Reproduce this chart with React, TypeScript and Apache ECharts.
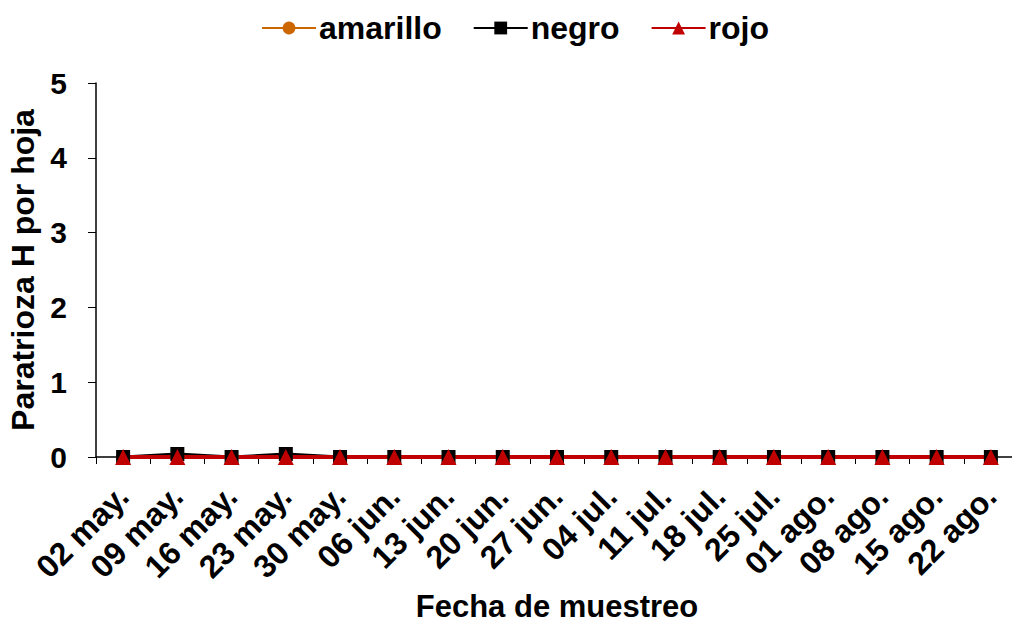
import React, { useEffect, useRef } from "react";
import * as echarts from "echarts";

const categories = [
  "02 may.", "09 may.", "16 may.", "23 may.", "30 may.", "06 jun.", "13 jun.", "20 jun.",
  "27 jun.", "04 jul.", "11 jul.", "18 jul.", "25 jul.", "01 ago.", "08 ago.", "15 ago.", "22 ago.",
];
const amarillo = [0, 0, 0, 0, 0, 0, 0, 0, 0, 0, 0, 0, 0, 0, 0, 0, 0];
const negro = [0, 0.04, 0, 0.04, 0, 0, 0, 0, 0, 0, 0, 0, 0, 0, 0, 0, 0];
const rojo = [0, 0, 0, 0, 0, 0, 0, 0, 0, 0, 0, 0, 0, 0, 0, 0, 0];

const FONT = "'Liberation Sans', Arial, sans-serif";

export default function App() {
  const ref = useRef<HTMLDivElement>(null);
  useEffect(() => {
    if (!ref.current) return;
    const chart = echarts.init(ref.current, null, { renderer: "svg" });
    chart.setOption({
      animation: false,
      backgroundColor: "#ffffff",
      textStyle: { fontFamily: FONT },
      legend: {
        top: 7,
        left: 256,
        itemWidth: 54,
        itemHeight: 16,
        itemGap: 31,
        textStyle: { fontSize: 32, fontWeight: "bold", color: "#000", fontFamily: FONT, padding: [0, 0, 0, -2] },
        data: ["amarillo", "negro", "rojo"],
      },
      grid: { left: 96, right: -6, top: 83, bottom: 167, containLabel: false, outerBoundsMode: "none" },
      xAxis: {
        type: "category",
        data: categories,
        boundaryGap: true,
        axisLine: { lineStyle: { color: "#000", width: 1.5 } },
        axisTick: { show: true, inside: false, length: 7, lineStyle: { color: "#000" } },
        axisLabel: {
          rotate: 45,
          interval: 0,
          fontSize: 32,
          fontWeight: "bold",
          color: "#000",
          fontFamily: FONT,
          margin: 34,
        },
        name: "Fecha de muestreo",
        nameLocation: "middle",
        nameGap: 133,
        nameTextStyle: { fontSize: 31, fontWeight: "bold", color: "#000", fontFamily: FONT },
        splitLine: { show: false },
      },
      yAxis: {
        type: "value",
        min: 0,
        max: 5,
        interval: 1,
        axisLine: { show: true, lineStyle: { color: "#000", width: 1.5 } },
        axisTick: { show: true, inside: false, length: 8, lineStyle: { color: "#000" } },
        axisLabel: { fontSize: 30, fontWeight: "bold", color: "#000", fontFamily: FONT, margin: 29 },
        splitLine: { show: false },
        name: "Paratrioza H por hoja",
        nameLocation: "middle",
        nameRotate: 90,
        nameGap: 50,
        nameTextStyle: { fontSize: 32, fontWeight: "bold", color: "#000", fontFamily: FONT },
      },
      series: [
        {
          name: "amarillo",
          type: "line",
          data: amarillo,
          symbol: "circle",
          symbolSize: 14,
          itemStyle: { color: "#CC6600" },
          lineStyle: { color: "#CC6600", width: 3 },
        },
        {
          name: "negro",
          type: "line",
          data: negro,
          symbol: "rect",
          symbolSize: 14,
          itemStyle: { color: "#000000" },
          lineStyle: { color: "#000000", width: 3 },
        },
        {
          name: "rojo",
          type: "line",
          data: rojo,
          symbol: "triangle",
          symbolSize: 16,
          itemStyle: { color: "#C00000" },
          lineStyle: { color: "#C00000", width: 4 },
        },
      ],
    });
    return () => chart.dispose();
  }, []);
  return <div ref={ref} style={{ width: 1012, height: 624, position: "absolute", left: 0, top: 0 }} />;
}
